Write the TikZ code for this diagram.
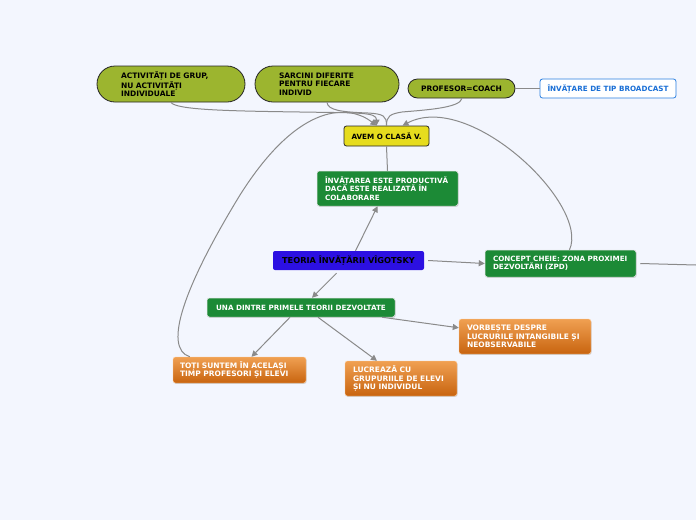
\documentclass[tikz,border=0pt]{standalone}
\usepackage{fontspec}
\setmainfont{DejaVu Sans}
\usetikzlibrary{arrows.meta,shadows}
\definecolor{bg}{HTML}{F3F6FE}
\definecolor{olivefill}{HTML}{9CB52F}
\definecolor{yellowfill}{HTML}{E6DC1E}
\definecolor{greenfill}{HTML}{1C8A36}
\definecolor{bluefill}{HTML}{2C10E2}
\definecolor{orangetop}{HTML}{F0A052}
\definecolor{orangebot}{HTML}{C8640F}
\definecolor{bctext}{HTML}{1A6FD6}
\definecolor{bcborder}{HTML}{2A7FE0}
\definecolor{linec}{HTML}{8A8A8A}
\begin{document}
\begin{tikzpicture}[x=1pt,y=-1pt,
  base/.style={font=\bfseries\fontsize{7.2}{8.5}\selectfont, inner sep=0pt, align=left},
  pill/.style={base, draw=black!85, line width=0.8pt, fill=olivefill, text=black, font=\bfseries\fontsize{7.5}{8.5}\selectfont},
  yelbox/.style={base, draw=black!85, line width=0.8pt, fill=yellowfill, rounded corners=2.5pt, text=black},
  grnbox/.style={base, draw=white!75!gray, line width=0.5pt, fill=greenfill, rounded corners=2.5pt, text=white,
    drop shadow={shadow xshift=0.6pt, shadow yshift=-0.9pt, opacity=0.3}},
  orgbox/.style={base, draw=white!60!orange, line width=0.4pt, top color=orangetop, bottom color=orangebot, rounded corners=2.5pt, text=white,
    font=\bfseries\fontsize{7.5}{8.5}\selectfont,
    drop shadow={shadow xshift=0.6pt, shadow yshift=-0.9pt, opacity=0.3}},
  bluebox/.style={base, fill=bluefill, rounded corners=2pt, text=black, font=\bfseries\fontsize{8.2}{9}\selectfont},
  bcbox/.style={base, draw=bcborder, line width=0.8pt, fill=white, rounded corners=2.5pt, text=bctext},
  conn/.style={draw=linec, line width=1pt},
  arr/.style={conn, -{Triangle[length=6pt,width=6pt]}}
]
\fill[bg] (0,0) rectangle (696,520);
\useasboundingbox (0,0) rectangle (696,520);

% nodes
\node[pill, rounded corners=18pt, minimum width=148pt, minimum height=36pt, text width=100pt] (act) at (171,84)
  {ACTIVITĂȚI DE GRUP,\\NU ACTIVITĂȚI\\INDIVIDUALE};
\node[pill, rounded corners=18pt, minimum width=144pt, minimum height=36pt, text width=96pt] (sar) at (327,84)
  {SARCINI DIFERITE\\PENTRU FIECARE\\INDIVID};
\node[pill, rounded corners=9.5pt, minimum width=107pt, minimum height=19pt, align=center] (prof) at (461.5,88.5)
  {PROFESOR=COACH};
\node[bcbox, minimum width=136pt, minimum height=19pt, align=center] (bc) at (608,88.5)
  {ÎNVĂȚARE DE TIP BROADCAST};
\node[yelbox, minimum width=85pt, minimum height=20pt, align=center] (avem) at (386.5,136)
  {AVEM O CLASĂ V.};
\node[grnbox, minimum width=141pt, minimum height=35pt, text width=125pt] (inv) at (387.5,188.5)
  {ÎNVĂȚAREA ESTE PRODUCTIVĂ\\DACĂ ESTE REALIZATĂ ÎN\\COLABORARE};
\node[bluebox, minimum width=151pt, minimum height=19pt, align=center] (teo) at (348.5,260.5)
  {TEORIA ÎNVĂȚĂRII VÎGOTSKY};
\node[grnbox, minimum width=151pt, minimum height=27pt, text width=135pt] (zpd) at (560.5,263.5)
  {\mbox{CONCEPT CHEIE: ZONA PROXIMEI}\\\mbox{DEZVOLTĂRI (ZPD)}};
\node[grnbox, minimum width=188pt, minimum height=19pt, align=center] (una) at (301,307.5)
  {UNA DINTRE PRIMELE TEORII DEZVOLTATE};
\node[orgbox, minimum width=132pt, minimum height=35pt, text width=116pt] (vor) at (525,336.5)
  {VORBEȘTE DESPRE\\LUCRURILE INTANGIBILE ȘI\\NEOBSERVABILE};
\node[orgbox, minimum width=133pt, minimum height=26pt, text width=119pt] (toti) at (239.5,370)
  {TOȚI SUNTEM ÎN ACELAȘI\\TIMP PROFESORI ȘI ELEVI};
\node[orgbox, minimum width=112pt, minimum height=35pt, text width=96pt] (luc) at (401,378.5)
  {LUCREAZĂ CU\\GRUPURIILE DE ELEVI\\ȘI NU INDIVIDUL};

\coordinate (edge) at (696,265);

% connectors
\draw[arr] (act.south) .. controls (176,110) and (230,111) .. (300,112)
  .. controls (360,113) and (376.5,112) .. ([xshift=-10pt]avem.north);
\draw[conn] (sar.south) .. controls (328,110) and (340,112) .. (368,113)
  .. controls (384,114) and (386.5,116) .. (avem.north);
\draw[conn] ([xshift=0.5pt]prof.south) .. controls (460,108) and (425,110) .. (402,112)
  .. controls (390,114) and (386.5,116) .. (avem.north);
\draw[conn] (prof.east) -- (bc.west);
\draw[conn] (inv.north) -- (avem.south);
\draw[arr] ([xshift=17pt]toti.north west) .. controls (162,348) and (185,285) .. (240,195)
  .. controls (300,100) and (350,105) .. ([xshift=-10pt]avem.north);
\draw[arr] ([xshift=9pt]zpd.north) .. controls (590,205) and (470,90) .. ([xshift=16pt]avem.north);
\draw[arr] ([xshift=7pt]teo.north) -- ([xshift=-10pt]inv.south);
\draw[arr] ([xshift=4pt]teo.east) -- (zpd.west);
\draw[arr] ([xshift=-12pt,yshift=-3pt]teo.south) -- ([xshift=11pt]una.north);
\draw[arr] ([xshift=-11pt]una.south) -- ([xshift=12pt]toti.north);
\draw[arr] ([xshift=17pt]una.south) -- ([xshift=-24pt]luc.north);
\draw[arr] ([xshift=-13pt]una.south east) -- ([yshift=-9pt]vor.north west);
\draw[conn] ([xshift=4pt]zpd.east) -- (edge);
\end{tikzpicture}
\end{document}
